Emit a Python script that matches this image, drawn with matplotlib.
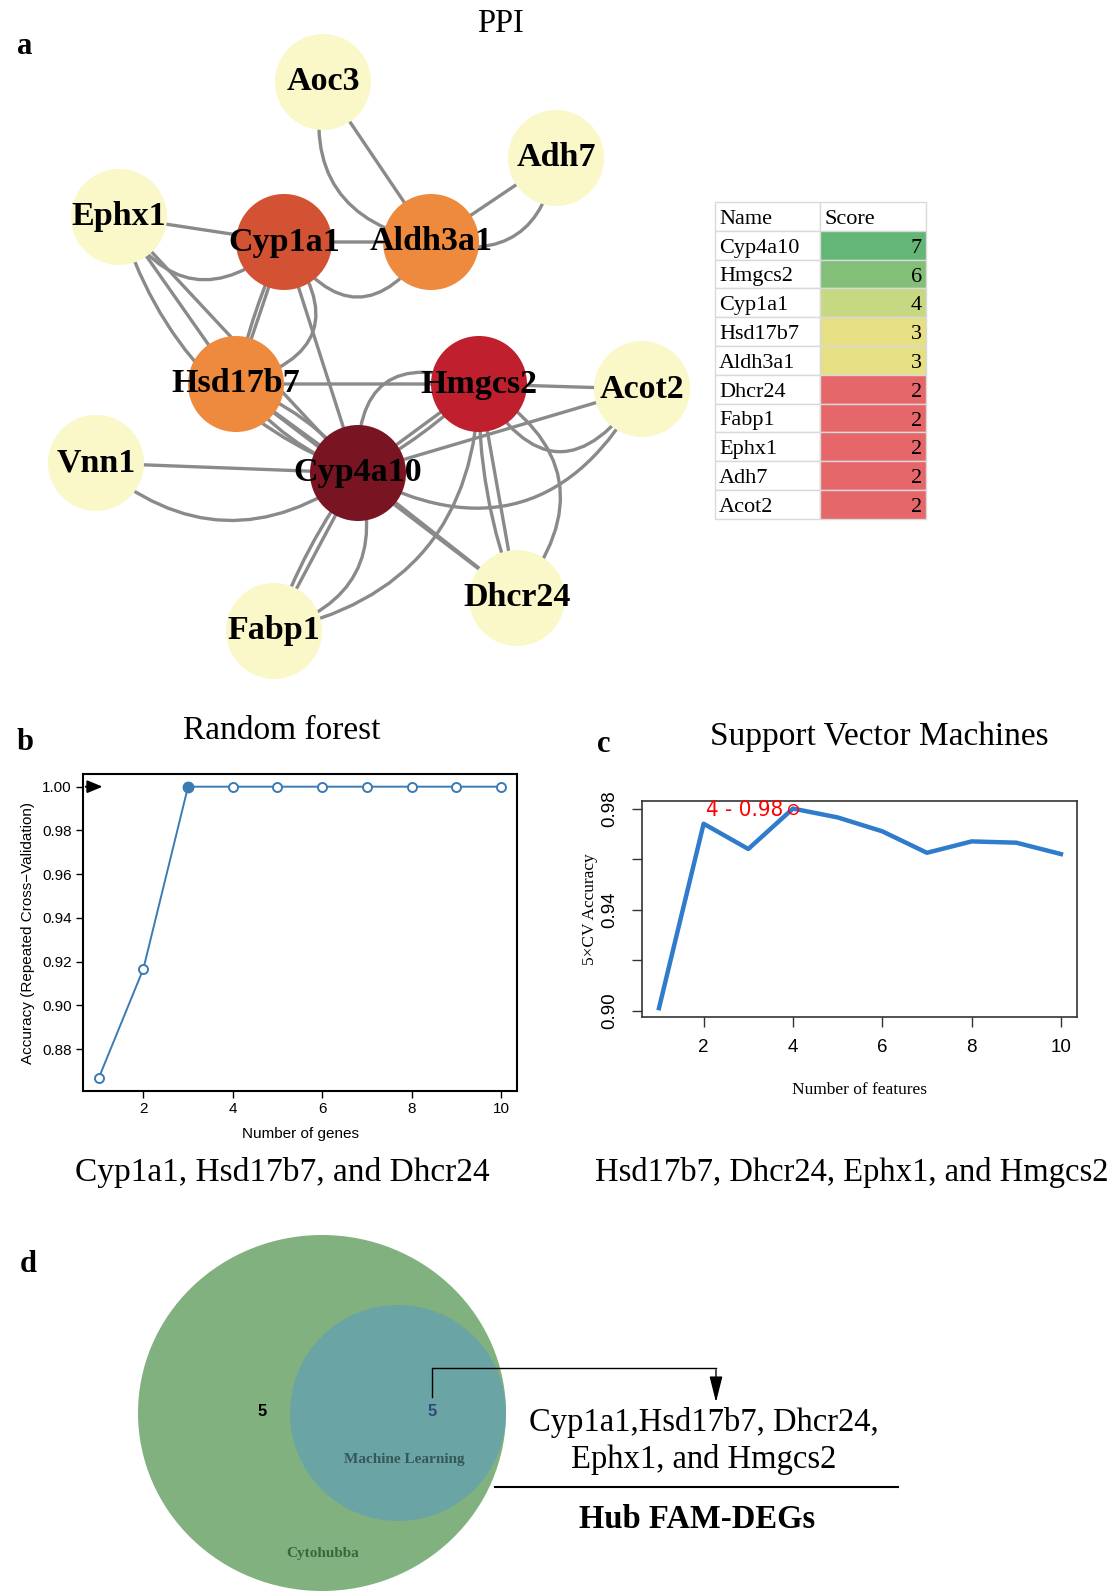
import numpy as np
import matplotlib
matplotlib.use('Agg')
import matplotlib.pyplot as plt
from matplotlib.patches import Circle, Ellipse, Rectangle, FancyArrowPatch

W, H = 1118, 1591
SERIF = ['Liberation Serif', 'DejaVu Serif']
SANS = ['Liberation Sans', 'DejaVu Sans']

# ---------------- data ----------------
# panel a: PPI network (layout in pixels of the figure)
genes = ['Aoc3', 'Adh7', 'Ephx1', 'Cyp1a1', 'Aldh3a1', 'Hsd17b7',
         'Hmgcs2', 'Acot2', 'Vnn1', 'Cyp4a10', 'Dhcr24', 'Fabp1']
node_xy = {'Aoc3': (323, 82), 'Adh7': (556, 158), 'Ephx1': (119, 217),
           'Cyp1a1': (284, 242), 'Aldh3a1': (431, 242), 'Hsd17b7': (236, 384),
           'Hmgcs2': (479, 384), 'Acot2': (642, 389), 'Vnn1': (96, 463),
           'Cyp4a10': (358, 473), 'Dhcr24': (517, 598), 'Fabp1': (274, 631)}
hub_col = {'Cyp1a1': '#d35233', 'Aldh3a1': '#ee8a3d', 'Hsd17b7': '#ee8a3d',
           'Hmgcs2': '#c01f2d', 'Cyp4a10': '#791523'}
edges = [('Aoc3', 'Aldh3a1', 0), ('Aoc3', 'Aldh3a1', 0.5),
         ('Adh7', 'Aldh3a1', 0), ('Adh7', 'Aldh3a1', -0.55),
         ('Ephx1', 'Cyp1a1', 0), ('Ephx1', 'Cyp1a1', 0.6),
         ('Ephx1', 'Hsd17b7', 0), ('Ephx1', 'Cyp4a10', 0), ('Ephx1', 'Cyp4a10', 0.25),
         ('Cyp1a1', 'Aldh3a1', 0), ('Cyp1a1', 'Aldh3a1', 0.75),
         ('Cyp1a1', 'Hsd17b7', 0), ('Cyp1a1', 'Hsd17b7', 0.06), ('Cyp1a1', 'Hsd17b7', -0.75),
         ('Cyp1a1', 'Cyp4a10', 0), ('Hsd17b7', 'Hmgcs2', 0), ('Hmgcs2', 'Acot2', 0),
         ('Hsd17b7', 'Cyp4a10', 0), ('Hsd17b7', 'Cyp4a10', 0.15), ('Hsd17b7', 'Cyp4a10', -0.15),
         ('Hsd17b7', 'Dhcr24', 0), ('Vnn1', 'Cyp4a10', 0), ('Vnn1', 'Cyp4a10', 0.4),
         ('Cyp4a10', 'Hmgcs2', -0.75), ('Cyp4a10', 'Hmgcs2', 0), ('Cyp4a10', 'Hmgcs2', 0.08),
         ('Acot2', 'Cyp4a10', 0), ('Acot2', 'Cyp4a10', -0.5), ('Acot2', 'Hmgcs2', -0.8),
         ('Hmgcs2', 'Dhcr24', 0), ('Hmgcs2', 'Dhcr24', 0.1), ('Hmgcs2', 'Dhcr24', -0.57),
         ('Cyp4a10', 'Dhcr24', 0), ('Cyp4a10', 'Fabp1', 0), ('Cyp4a10', 'Fabp1', 0.08),
         ('Cyp4a10', 'Fabp1', -0.5), ('Hmgcs2', 'Fabp1', -0.4)]

# cytohubba table
tab_names = ['Cyp4a10', 'Hmgcs2', 'Cyp1a1', 'Hsd17b7', 'Aldh3a1',
             'Dhcr24', 'Fabp1', 'Ephx1', 'Adh7', 'Acot2']
tab_scores = [7, 6, 4, 3, 3, 2, 2, 2, 2, 2]
score_col = {7: '#63b675', 6: '#84bf7a', 4: '#c6d881', 3: '#e6df83', 2: '#e6676a'}

# panel b: random forest
rf_n = np.arange(1, 11)
rf_acc = [0.8667, 0.9167, 1.0, 1.0, 1.0, 1.0, 1.0, 1.0, 1.0, 1.0]

# panel c: SVM
svm_n = np.arange(1, 11)
svm_acc = [0.901, 0.974, 0.964, 0.980, 0.9765, 0.971, 0.9625, 0.967, 0.9665, 0.962]

# panel d: venn
venn_only_cyto = 5
venn_both = 5
hub_genes = 'Cyp1a1,Hsd17b7, Dhcr24,\nEphx1, and Hmgcs2'

# ---------------- figure ----------------
fig = plt.figure(figsize=(W / 100, H / 100), dpi=100)
ax0 = fig.add_axes([0, 0, 1, 1])
ax0.set_xlim(0, W)
ax0.set_ylim(H, 0)
ax0.axis('off')

# panel a
ax0.text(17, 46, 'a', fontsize=22, fontweight='bold', family=SERIF, va='center')
ax0.text(500, 24, 'PPI', fontsize=23.5, family=SERIF, ha='center', va='center')
for a, b, rad in edges:
    p = FancyArrowPatch(node_xy[a], node_xy[b], connectionstyle=f'arc3,rad={rad}',
                        arrowstyle='-', color='#8a8a8a', lw=2.4, zorder=1,
                        shrinkA=0, shrinkB=0)
    ax0.add_patch(p)
for g in genes:
    ax0.add_patch(Circle(node_xy[g], 48, color=hub_col.get(g, '#faf7c9'), zorder=2, lw=0))
    ax0.text(node_xy[g][0], node_xy[g][1], g, fontsize=24.5, fontweight='bold',
             family=SERIF, ha='center', va='center', zorder=3)

# table
tx0, tx1, tx2, ty0, rh = 715, 820, 926, 202, 28.8
rows = [('Name', 'Score', None)] + [(n, str(s), score_col[s]) for n, s in zip(tab_names, tab_scores)]
for i, (n, s, c) in enumerate(rows):
    y = ty0 + i * rh
    ax0.add_patch(Rectangle((tx0, y), tx1 - tx0, rh, fc='white', ec='#d9d9d9', lw=1))
    ax0.add_patch(Rectangle((tx1, y), tx2 - tx1, rh, fc=c if c else 'white', ec='#d9d9d9', lw=1))
    ax0.text(tx0 + 4, y + rh / 2 + 3, n, fontsize=16, family=SERIF, va='center')
    if c is None:
        ax0.text(tx1 + 4, y + rh / 2 + 3, s, fontsize=16, family=SERIF, va='center')
    else:
        ax0.text(tx2 - 4, y + rh / 2 + 3, s, fontsize=16, family=SERIF, va='center', ha='right')

# panel b
ax0.text(17, 742, 'b', fontsize=22, fontweight='bold', family=SERIF, va='center')
ax0.text(282, 731, 'Random forest', fontsize=24, family=SERIF, ha='center', va='center')
ax0.text(282, 1172, 'Cyp1a1, Hsd17b7, and Dhcr24', fontsize=24, family=SERIF, ha='center', va='center')
axb = fig.add_axes([83 / W, 1 - 1091 / H, 434 / W, 317 / H])
axb.plot(rf_n, rf_acc, color='#3b7bb4', lw=1.4, marker='o', mfc='white', ms=6.5, mew=1.4)
best = int(np.argmax(rf_acc))
axb.plot(rf_n[best], rf_acc[best], 'o', color='#3b7bb4', ms=7.5)
axb.annotate('', xy=(1.15, 1.0), xytext=(0.65, 1.0),
             arrowprops=dict(arrowstyle='-|>,head_width=0.25,head_length=0.6',
                             color='black', lw=1.5, mutation_scale=15))
axb.set_xlim(0.65, 10.36)
axb.set_ylim(0.8609, 1.0058)
axb.set_xticks([2, 4, 6, 8, 10])
axb.set_yticks([0.88, 0.90, 0.92, 0.94, 0.96, 0.98, 1.00])
axb.set_yticklabels([f'{v:.2f}' for v in [0.88, 0.90, 0.92, 0.94, 0.96, 0.98, 1.00]])
axb.tick_params(length=5, width=1, labelsize=11, pad=3)
for lbl in axb.get_xticklabels() + axb.get_yticklabels():
    lbl.set_family(SANS)
for sp in axb.spines.values():
    sp.set_linewidth(1.5)
axb.set_xlabel('Number of genes', fontsize=11, family=SANS, labelpad=8)
axb.set_ylabel('Accuracy (Repeated Cross\u2212Validation)', fontsize=11, family=SANS)
axb.yaxis.set_label_coords(-0.11, 0.5)

# panel c
ax0.text(597, 744, 'c', fontsize=22, fontweight='bold', family=SERIF, va='center')
ax0.text(879, 737, 'Support Vector Machines', fontsize=24, family=SERIF, ha='center', va='center')
ax0.text(852, 1172, 'Hsd17b7, Dhcr24, Ephx1, and Hmgcs2', fontsize=23.5, family=SERIF,
         ha='center', va='center')
axc = fig.add_axes([642 / W, 1 - 1017 / H, 435 / W, 216 / H])
axc.plot(svm_n, svm_acc, color='#2f7bcc', lw=3.2)
ib = int(np.argmax(svm_acc))
axc.plot(svm_n[ib], svm_acc[ib], 'o', mfc='none', mec='red', ms=7, mew=1)
axc.text(svm_n[ib] - 0.22, svm_acc[ib] - 0.0004, f'{svm_n[ib]} - {svm_acc[ib]:.2f}', color='red',
         fontsize=16, ha='right', va='center', family=['DejaVu Sans'], fontstretch='condensed')
axc.set_xlim(0.62, 10.36)
axc.set_ylim(0.8975, 0.983)
axc.set_xticks([2, 4, 6, 8, 10])
axc.set_yticks([0.90, 0.92, 0.94, 0.96, 0.98])
axc.set_yticklabels(['0.90', '', '0.94', '', '0.98'])
axc.tick_params(length=7, width=1, labelsize=13.5, color='#333333')
axc.tick_params(axis='x', pad=9)
axc.tick_params(axis='y', labelrotation=90, pad=10)
for lbl in axc.get_yticklabels():
    lbl.set_va('center')
for lbl in axc.get_xticklabels() + axc.get_yticklabels():
    lbl.set_family(SANS)
for sp in axc.spines.values():
    sp.set_linewidth(1.2)
    sp.set_color('#333333')
axc.set_xlabel('Number of features', fontsize=12.5, family=SERIF)
axc.xaxis.set_label_coords(0.5, -0.30)
axc.set_ylabel('5\u00d7CV Accuracy', fontsize=12.5, family=SERIF)
axc.yaxis.set_label_coords(-0.10, 0.5)

# panel d
ax0.text(20, 1264, 'd', fontsize=22, fontweight='bold', family=SERIF, va='center')
ax0.add_patch(Ellipse((322, 1413), 368, 356, color='#80b17e', lw=0, zorder=1))
ax0.add_patch(Circle((398, 1413), 108, color='#6ba4a5', lw=0, zorder=2))
ax0.text(262, 1411, str(venn_only_cyto), fontsize=12, fontweight='bold', family=SANS,
         ha='center', va='center', zorder=3)
ax0.text(432, 1411, str(venn_both), fontsize=12, fontweight='bold', family=SANS,
         color='#2e4a7a', ha='center', va='center', zorder=3)
ax0.text(404, 1459, 'Machine Learning', fontsize=11, fontweight='bold', family=SERIF,
         color='#35585a', ha='center', va='center', zorder=3)
ax0.text(323, 1554, 'Cytohubba', fontsize=11, fontweight='bold', family=SERIF,
         color='#3a663b', ha='center', va='center', zorder=3)
ax0.plot([432, 432, 716], [1397, 1368, 1368], color='black', lw=1, zorder=4)
ax0.annotate('', xy=(716, 1405), xytext=(716, 1367),
             arrowprops=dict(arrowstyle='-|>,head_width=0.2,head_length=0.8',
                             color='black', lw=1, mutation_scale=20), zorder=4)
ax0.text(704, 1441, hub_genes, fontsize=23.5, family=SERIF, ha='center', va='center',
         linespacing=1.22)
ax0.plot([495, 898], [1487, 1487], color='black', lw=1.5)
ax0.text(697, 1519, 'Hub FAM-DEGs', fontsize=23.5, fontweight='bold', family=SERIF,
         ha='center', va='center')

fig.savefig('out.png', dpi=100)
